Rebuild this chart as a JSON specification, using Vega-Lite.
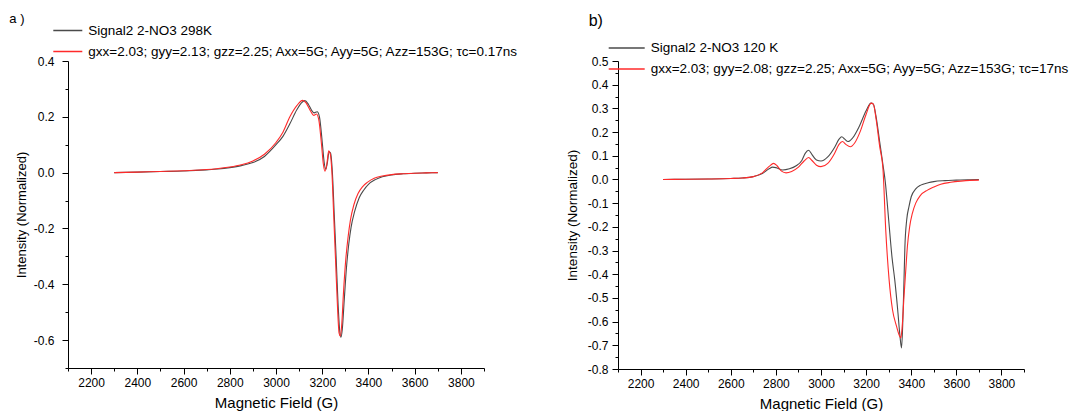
{
  "$schema": "https://vega.github.io/schema/vega-lite/v6.json",
  "background": "white",
  "padding": {"left": 9, "top": 12, "right": 0, "bottom": 0},
  "bounds": "flush",
  "spacing": 134,
  "config": {
    "font": "Liberation Sans",
    "view": {"stroke": null},
    "axis": {"domainColor": "#000", "tickColor": "#000", "labelColor": "#000", "titleColor": "#000", "grid": false, "labelFont": "Liberation Sans", "titleFont": "Liberation Sans", "labelFontSize": 12, "titleFontWeight": "normal", "domainWidth": 1, "tickWidth": 1, "labelFlush": false, "labelOverlap": false},
    "legend": {"orient": "none", "title": null, "symbolType": "stroke", "labelFont": "Liberation Sans", "labelFontSize": 13.5, "labelColor": "#000", "clipHeight": 14, "rowPadding": 7, "labelOffset": 5, "padding": 0, "symbolStrokeWidth": 1.5, "labelLimit": 0},
    "title": {"font": "Liberation Sans", "fontWeight": "normal", "color": "#000", "anchor": "start", "frame": "group"}
  },
  "resolve": {"scale": {"x": "independent", "y": "independent", "color": "independent"}, "legend": {"color": "independent"}},
  "hconcat": [
    {
      "width": 416,
      "height": 307,
      "title": {"text": "a )", "fontSize": 13, "dx": -58.7, "dy": 6},
      "data": {"values": [
        {"B": 2300, "I": 0.000, "s": "Signal2 2-NO3 298K"},
        {"B": 2400, "I": 0.002, "s": "Signal2 2-NO3 298K"},
        {"B": 2500, "I": 0.004, "s": "Signal2 2-NO3 298K"},
        {"B": 2600, "I": 0.006, "s": "Signal2 2-NO3 298K"},
        {"B": 2700, "I": 0.010, "s": "Signal2 2-NO3 298K"},
        {"B": 2750, "I": 0.013, "s": "Signal2 2-NO3 298K"},
        {"B": 2800, "I": 0.018, "s": "Signal2 2-NO3 298K"},
        {"B": 2850, "I": 0.025, "s": "Signal2 2-NO3 298K"},
        {"B": 2900, "I": 0.036, "s": "Signal2 2-NO3 298K"},
        {"B": 2950, "I": 0.058, "s": "Signal2 2-NO3 298K"},
        {"B": 3000, "I": 0.100, "s": "Signal2 2-NO3 298K"},
        {"B": 3030, "I": 0.130, "s": "Signal2 2-NO3 298K"},
        {"B": 3060, "I": 0.175, "s": "Signal2 2-NO3 298K"},
        {"B": 3090, "I": 0.225, "s": "Signal2 2-NO3 298K"},
        {"B": 3110, "I": 0.250, "s": "Signal2 2-NO3 298K"},
        {"B": 3125, "I": 0.258, "s": "Signal2 2-NO3 298K"},
        {"B": 3140, "I": 0.245, "s": "Signal2 2-NO3 298K"},
        {"B": 3155, "I": 0.222, "s": "Signal2 2-NO3 298K"},
        {"B": 3165, "I": 0.214, "s": "Signal2 2-NO3 298K"},
        {"B": 3178, "I": 0.218, "s": "Signal2 2-NO3 298K"},
        {"B": 3188, "I": 0.200, "s": "Signal2 2-NO3 298K"},
        {"B": 3200, "I": 0.110, "s": "Signal2 2-NO3 298K"},
        {"B": 3208, "I": 0.040, "s": "Signal2 2-NO3 298K"},
        {"B": 3215, "I": 0.012, "s": "Signal2 2-NO3 298K"},
        {"B": 3222, "I": 0.035, "s": "Signal2 2-NO3 298K"},
        {"B": 3230, "I": 0.075, "s": "Signal2 2-NO3 298K"},
        {"B": 3236, "I": 0.070, "s": "Signal2 2-NO3 298K"},
        {"B": 3244, "I": 0.000, "s": "Signal2 2-NO3 298K"},
        {"B": 3252, "I": -0.150, "s": "Signal2 2-NO3 298K"},
        {"B": 3260, "I": -0.300, "s": "Signal2 2-NO3 298K"},
        {"B": 3268, "I": -0.460, "s": "Signal2 2-NO3 298K"},
        {"B": 3276, "I": -0.570, "s": "Signal2 2-NO3 298K"},
        {"B": 3281, "I": -0.590, "s": "Signal2 2-NO3 298K"},
        {"B": 3287, "I": -0.560, "s": "Signal2 2-NO3 298K"},
        {"B": 3295, "I": -0.460, "s": "Signal2 2-NO3 298K"},
        {"B": 3305, "I": -0.340, "s": "Signal2 2-NO3 298K"},
        {"B": 3315, "I": -0.255, "s": "Signal2 2-NO3 298K"},
        {"B": 3325, "I": -0.195, "s": "Signal2 2-NO3 298K"},
        {"B": 3340, "I": -0.140, "s": "Signal2 2-NO3 298K"},
        {"B": 3360, "I": -0.090, "s": "Signal2 2-NO3 298K"},
        {"B": 3380, "I": -0.062, "s": "Signal2 2-NO3 298K"},
        {"B": 3400, "I": -0.042, "s": "Signal2 2-NO3 298K"},
        {"B": 3430, "I": -0.025, "s": "Signal2 2-NO3 298K"},
        {"B": 3460, "I": -0.015, "s": "Signal2 2-NO3 298K"},
        {"B": 3500, "I": -0.008, "s": "Signal2 2-NO3 298K"},
        {"B": 3550, "I": -0.004, "s": "Signal2 2-NO3 298K"},
        {"B": 3600, "I": -0.002, "s": "Signal2 2-NO3 298K"},
        {"B": 3650, "I": -0.001, "s": "Signal2 2-NO3 298K"},
        {"B": 3700, "I": 0.000, "s": "Signal2 2-NO3 298K"},
        {"B": 2300, "I": 0.000, "s": "gxx=2.03; gyy=2.13; gzz=2.25; Axx=5G; Ayy=5G; Azz=153G; τc=0.17ns"},
        {"B": 2400, "I": 0.002, "s": "gxx=2.03; gyy=2.13; gzz=2.25; Axx=5G; Ayy=5G; Azz=153G; τc=0.17ns"},
        {"B": 2500, "I": 0.004, "s": "gxx=2.03; gyy=2.13; gzz=2.25; Axx=5G; Ayy=5G; Azz=153G; τc=0.17ns"},
        {"B": 2600, "I": 0.007, "s": "gxx=2.03; gyy=2.13; gzz=2.25; Axx=5G; Ayy=5G; Azz=153G; τc=0.17ns"},
        {"B": 2700, "I": 0.011, "s": "gxx=2.03; gyy=2.13; gzz=2.25; Axx=5G; Ayy=5G; Azz=153G; τc=0.17ns"},
        {"B": 2750, "I": 0.015, "s": "gxx=2.03; gyy=2.13; gzz=2.25; Axx=5G; Ayy=5G; Azz=153G; τc=0.17ns"},
        {"B": 2800, "I": 0.020, "s": "gxx=2.03; gyy=2.13; gzz=2.25; Axx=5G; Ayy=5G; Azz=153G; τc=0.17ns"},
        {"B": 2850, "I": 0.028, "s": "gxx=2.03; gyy=2.13; gzz=2.25; Axx=5G; Ayy=5G; Azz=153G; τc=0.17ns"},
        {"B": 2900, "I": 0.042, "s": "gxx=2.03; gyy=2.13; gzz=2.25; Axx=5G; Ayy=5G; Azz=153G; τc=0.17ns"},
        {"B": 2950, "I": 0.066, "s": "gxx=2.03; gyy=2.13; gzz=2.25; Axx=5G; Ayy=5G; Azz=153G; τc=0.17ns"},
        {"B": 3000, "I": 0.108, "s": "gxx=2.03; gyy=2.13; gzz=2.25; Axx=5G; Ayy=5G; Azz=153G; τc=0.17ns"},
        {"B": 3030, "I": 0.145, "s": "gxx=2.03; gyy=2.13; gzz=2.25; Axx=5G; Ayy=5G; Azz=153G; τc=0.17ns"},
        {"B": 3060, "I": 0.200, "s": "gxx=2.03; gyy=2.13; gzz=2.25; Axx=5G; Ayy=5G; Azz=153G; τc=0.17ns"},
        {"B": 3090, "I": 0.240, "s": "gxx=2.03; gyy=2.13; gzz=2.25; Axx=5G; Ayy=5G; Azz=153G; τc=0.17ns"},
        {"B": 3115, "I": 0.259, "s": "gxx=2.03; gyy=2.13; gzz=2.25; Axx=5G; Ayy=5G; Azz=153G; τc=0.17ns"},
        {"B": 3130, "I": 0.250, "s": "gxx=2.03; gyy=2.13; gzz=2.25; Axx=5G; Ayy=5G; Azz=153G; τc=0.17ns"},
        {"B": 3150, "I": 0.220, "s": "gxx=2.03; gyy=2.13; gzz=2.25; Axx=5G; Ayy=5G; Azz=153G; τc=0.17ns"},
        {"B": 3163, "I": 0.205, "s": "gxx=2.03; gyy=2.13; gzz=2.25; Axx=5G; Ayy=5G; Azz=153G; τc=0.17ns"},
        {"B": 3175, "I": 0.210, "s": "gxx=2.03; gyy=2.13; gzz=2.25; Axx=5G; Ayy=5G; Azz=153G; τc=0.17ns"},
        {"B": 3185, "I": 0.190, "s": "gxx=2.03; gyy=2.13; gzz=2.25; Axx=5G; Ayy=5G; Azz=153G; τc=0.17ns"},
        {"B": 3197, "I": 0.100, "s": "gxx=2.03; gyy=2.13; gzz=2.25; Axx=5G; Ayy=5G; Azz=153G; τc=0.17ns"},
        {"B": 3205, "I": 0.030, "s": "gxx=2.03; gyy=2.13; gzz=2.25; Axx=5G; Ayy=5G; Azz=153G; τc=0.17ns"},
        {"B": 3212, "I": 0.005, "s": "gxx=2.03; gyy=2.13; gzz=2.25; Axx=5G; Ayy=5G; Azz=153G; τc=0.17ns"},
        {"B": 3220, "I": 0.030, "s": "gxx=2.03; gyy=2.13; gzz=2.25; Axx=5G; Ayy=5G; Azz=153G; τc=0.17ns"},
        {"B": 3228, "I": 0.078, "s": "gxx=2.03; gyy=2.13; gzz=2.25; Axx=5G; Ayy=5G; Azz=153G; τc=0.17ns"},
        {"B": 3234, "I": 0.070, "s": "gxx=2.03; gyy=2.13; gzz=2.25; Axx=5G; Ayy=5G; Azz=153G; τc=0.17ns"},
        {"B": 3242, "I": 0.000, "s": "gxx=2.03; gyy=2.13; gzz=2.25; Axx=5G; Ayy=5G; Azz=153G; τc=0.17ns"},
        {"B": 3250, "I": -0.160, "s": "gxx=2.03; gyy=2.13; gzz=2.25; Axx=5G; Ayy=5G; Azz=153G; τc=0.17ns"},
        {"B": 3258, "I": -0.320, "s": "gxx=2.03; gyy=2.13; gzz=2.25; Axx=5G; Ayy=5G; Azz=153G; τc=0.17ns"},
        {"B": 3266, "I": -0.480, "s": "gxx=2.03; gyy=2.13; gzz=2.25; Axx=5G; Ayy=5G; Azz=153G; τc=0.17ns"},
        {"B": 3273, "I": -0.575, "s": "gxx=2.03; gyy=2.13; gzz=2.25; Axx=5G; Ayy=5G; Azz=153G; τc=0.17ns"},
        {"B": 3278, "I": -0.585, "s": "gxx=2.03; gyy=2.13; gzz=2.25; Axx=5G; Ayy=5G; Azz=153G; τc=0.17ns"},
        {"B": 3284, "I": -0.550, "s": "gxx=2.03; gyy=2.13; gzz=2.25; Axx=5G; Ayy=5G; Azz=153G; τc=0.17ns"},
        {"B": 3292, "I": -0.430, "s": "gxx=2.03; gyy=2.13; gzz=2.25; Axx=5G; Ayy=5G; Azz=153G; τc=0.17ns"},
        {"B": 3302, "I": -0.310, "s": "gxx=2.03; gyy=2.13; gzz=2.25; Axx=5G; Ayy=5G; Azz=153G; τc=0.17ns"},
        {"B": 3312, "I": -0.230, "s": "gxx=2.03; gyy=2.13; gzz=2.25; Axx=5G; Ayy=5G; Azz=153G; τc=0.17ns"},
        {"B": 3322, "I": -0.170, "s": "gxx=2.03; gyy=2.13; gzz=2.25; Axx=5G; Ayy=5G; Azz=153G; τc=0.17ns"},
        {"B": 3337, "I": -0.115, "s": "gxx=2.03; gyy=2.13; gzz=2.25; Axx=5G; Ayy=5G; Azz=153G; τc=0.17ns"},
        {"B": 3355, "I": -0.075, "s": "gxx=2.03; gyy=2.13; gzz=2.25; Axx=5G; Ayy=5G; Azz=153G; τc=0.17ns"},
        {"B": 3375, "I": -0.050, "s": "gxx=2.03; gyy=2.13; gzz=2.25; Axx=5G; Ayy=5G; Azz=153G; τc=0.17ns"},
        {"B": 3395, "I": -0.035, "s": "gxx=2.03; gyy=2.13; gzz=2.25; Axx=5G; Ayy=5G; Azz=153G; τc=0.17ns"},
        {"B": 3425, "I": -0.020, "s": "gxx=2.03; gyy=2.13; gzz=2.25; Axx=5G; Ayy=5G; Azz=153G; τc=0.17ns"},
        {"B": 3460, "I": -0.012, "s": "gxx=2.03; gyy=2.13; gzz=2.25; Axx=5G; Ayy=5G; Azz=153G; τc=0.17ns"},
        {"B": 3500, "I": -0.007, "s": "gxx=2.03; gyy=2.13; gzz=2.25; Axx=5G; Ayy=5G; Azz=153G; τc=0.17ns"},
        {"B": 3550, "I": -0.004, "s": "gxx=2.03; gyy=2.13; gzz=2.25; Axx=5G; Ayy=5G; Azz=153G; τc=0.17ns"},
        {"B": 3600, "I": -0.002, "s": "gxx=2.03; gyy=2.13; gzz=2.25; Axx=5G; Ayy=5G; Azz=153G; τc=0.17ns"},
        {"B": 3650, "I": -0.001, "s": "gxx=2.03; gyy=2.13; gzz=2.25; Axx=5G; Ayy=5G; Azz=153G; τc=0.17ns"},
        {"B": 3700, "I": 0.000, "s": "gxx=2.03; gyy=2.13; gzz=2.25; Axx=5G; Ayy=5G; Azz=153G; τc=0.17ns"}
      ]},
      "mark": {"type": "line", "strokeWidth": 1.1, "interpolate": "monotone"},
      "encoding": {
        "x": {"field": "B", "type": "quantitative", "scale": {"domain": [2100, 3900], "nice": false, "zero": false},
          "axis": {"title": "Magnetic Field (G)", "titleFontSize": 15, "titlePadding": 7, "format": "d", "labelPadding": 3,
            "values": [2100, 2200, 2300, 2400, 2500, 2600, 2700, 2800, 2900, 3000, 3100, 3200, 3300, 3400, 3500, 3600, 3700, 3800, 3900],
            "labelExpr": "datum.value % 200 == 0 ? datum.label : ''",
            "tickSize": {"condition": {"test": "datum.value % 200 == 0", "value": 6}, "value": 3}}},
        "y": {"field": "I", "type": "quantitative", "scale": {"domain": [-0.7, 0.4], "nice": false, "zero": false},
          "axis": {"title": "Intensity (Normalized)", "titleFontSize": 13, "titlePadding": 5, "labelPadding": 8,
            "values": [-0.7, -0.6, -0.5, -0.4, -0.3, -0.2, -0.1, 0, 0.1, 0.2, 0.3, 0.4],
            "labelExpr": "abs(round(datum.value * 10)) % 2 == 0 ? replace(format(datum.value, '.1f'), '\u2212', '-') : ''",
            "tickSize": {"condition": {"test": "abs(round(datum.value * 10)) % 2 == 0", "value": 6}, "value": 3}}},
        "color": {"field": "s", "type": "nominal",
          "scale": {"domain": ["Signal2 2-NO3 298K", "gxx=2.03; gyy=2.13; gzz=2.25; Axx=5G; Ayy=5G; Azz=153G; τc=0.17ns"], "range": ["#4a4a4a", "#ff2a2a"]},
          "legend": {"legendX": -15.7, "legendY": -37.5, "symbolSize": 841}}
      }
    },
    {
      "width": 406,
      "height": 308,
      "title": {"text": "b)", "fontSize": 16, "dx": -29.3, "dy": -8},
      "data": {"values": [
        {"B": 2300, "I": 0.000, "s": "Signal2 2-NO3 120 K"},
        {"B": 2400, "I": 0.001, "s": "Signal2 2-NO3 120 K"},
        {"B": 2500, "I": 0.002, "s": "Signal2 2-NO3 120 K"},
        {"B": 2600, "I": 0.004, "s": "Signal2 2-NO3 120 K"},
        {"B": 2650, "I": 0.006, "s": "Signal2 2-NO3 120 K"},
        {"B": 2700, "I": 0.012, "s": "Signal2 2-NO3 120 K"},
        {"B": 2740, "I": 0.025, "s": "Signal2 2-NO3 120 K"},
        {"B": 2770, "I": 0.045, "s": "Signal2 2-NO3 120 K"},
        {"B": 2785, "I": 0.052, "s": "Signal2 2-NO3 120 K"},
        {"B": 2800, "I": 0.050, "s": "Signal2 2-NO3 120 K"},
        {"B": 2830, "I": 0.040, "s": "Signal2 2-NO3 120 K"},
        {"B": 2860, "I": 0.045, "s": "Signal2 2-NO3 120 K"},
        {"B": 2890, "I": 0.058, "s": "Signal2 2-NO3 120 K"},
        {"B": 2915, "I": 0.080, "s": "Signal2 2-NO3 120 K"},
        {"B": 2930, "I": 0.110, "s": "Signal2 2-NO3 120 K"},
        {"B": 2945, "I": 0.123, "s": "Signal2 2-NO3 120 K"},
        {"B": 2960, "I": 0.105, "s": "Signal2 2-NO3 120 K"},
        {"B": 2980, "I": 0.082, "s": "Signal2 2-NO3 120 K"},
        {"B": 3000, "I": 0.078, "s": "Signal2 2-NO3 120 K"},
        {"B": 3030, "I": 0.095, "s": "Signal2 2-NO3 120 K"},
        {"B": 3060, "I": 0.135, "s": "Signal2 2-NO3 120 K"},
        {"B": 3080, "I": 0.170, "s": "Signal2 2-NO3 120 K"},
        {"B": 3092, "I": 0.180, "s": "Signal2 2-NO3 120 K"},
        {"B": 3105, "I": 0.170, "s": "Signal2 2-NO3 120 K"},
        {"B": 3120, "I": 0.160, "s": "Signal2 2-NO3 120 K"},
        {"B": 3140, "I": 0.175, "s": "Signal2 2-NO3 120 K"},
        {"B": 3170, "I": 0.225, "s": "Signal2 2-NO3 120 K"},
        {"B": 3200, "I": 0.290, "s": "Signal2 2-NO3 120 K"},
        {"B": 3222, "I": 0.322, "s": "Signal2 2-NO3 120 K"},
        {"B": 3232, "I": 0.318, "s": "Signal2 2-NO3 120 K"},
        {"B": 3245, "I": 0.260, "s": "Signal2 2-NO3 120 K"},
        {"B": 3260, "I": 0.160, "s": "Signal2 2-NO3 120 K"},
        {"B": 3275, "I": 0.060, "s": "Signal2 2-NO3 120 K"},
        {"B": 3285, "I": -0.010, "s": "Signal2 2-NO3 120 K"},
        {"B": 3300, "I": -0.170, "s": "Signal2 2-NO3 120 K"},
        {"B": 3315, "I": -0.330, "s": "Signal2 2-NO3 120 K"},
        {"B": 3327, "I": -0.424, "s": "Signal2 2-NO3 120 K"},
        {"B": 3340, "I": -0.550, "s": "Signal2 2-NO3 120 K"},
        {"B": 3350, "I": -0.660, "s": "Signal2 2-NO3 120 K"},
        {"B": 3357, "I": -0.711, "s": "Signal2 2-NO3 120 K"},
        {"B": 3362, "I": -0.620, "s": "Signal2 2-NO3 120 K"},
        {"B": 3367, "I": -0.460, "s": "Signal2 2-NO3 120 K"},
        {"B": 3372, "I": -0.283, "s": "Signal2 2-NO3 120 K"},
        {"B": 3380, "I": -0.170, "s": "Signal2 2-NO3 120 K"},
        {"B": 3390, "I": -0.115, "s": "Signal2 2-NO3 120 K"},
        {"B": 3400, "I": -0.073, "s": "Signal2 2-NO3 120 K"},
        {"B": 3420, "I": -0.040, "s": "Signal2 2-NO3 120 K"},
        {"B": 3442, "I": -0.024, "s": "Signal2 2-NO3 120 K"},
        {"B": 3475, "I": -0.014, "s": "Signal2 2-NO3 120 K"},
        {"B": 3500, "I": -0.009, "s": "Signal2 2-NO3 120 K"},
        {"B": 3550, "I": -0.005, "s": "Signal2 2-NO3 120 K"},
        {"B": 3600, "I": -0.003, "s": "Signal2 2-NO3 120 K"},
        {"B": 3650, "I": -0.001, "s": "Signal2 2-NO3 120 K"},
        {"B": 3700, "I": 0.000, "s": "Signal2 2-NO3 120 K"},
        {"B": 2300, "I": 0.000, "s": "gxx=2.03; gyy=2.08; gzz=2.25; Axx=5G; Ayy=5G; Azz=153G; τc=17ns"},
        {"B": 2400, "I": 0.001, "s": "gxx=2.03; gyy=2.08; gzz=2.25; Axx=5G; Ayy=5G; Azz=153G; τc=17ns"},
        {"B": 2500, "I": 0.002, "s": "gxx=2.03; gyy=2.08; gzz=2.25; Axx=5G; Ayy=5G; Azz=153G; τc=17ns"},
        {"B": 2600, "I": 0.004, "s": "gxx=2.03; gyy=2.08; gzz=2.25; Axx=5G; Ayy=5G; Azz=153G; τc=17ns"},
        {"B": 2650, "I": 0.006, "s": "gxx=2.03; gyy=2.08; gzz=2.25; Axx=5G; Ayy=5G; Azz=153G; τc=17ns"},
        {"B": 2700, "I": 0.012, "s": "gxx=2.03; gyy=2.08; gzz=2.25; Axx=5G; Ayy=5G; Azz=153G; τc=17ns"},
        {"B": 2740, "I": 0.028, "s": "gxx=2.03; gyy=2.08; gzz=2.25; Axx=5G; Ayy=5G; Azz=153G; τc=17ns"},
        {"B": 2770, "I": 0.055, "s": "gxx=2.03; gyy=2.08; gzz=2.25; Axx=5G; Ayy=5G; Azz=153G; τc=17ns"},
        {"B": 2790, "I": 0.068, "s": "gxx=2.03; gyy=2.08; gzz=2.25; Axx=5G; Ayy=5G; Azz=153G; τc=17ns"},
        {"B": 2805, "I": 0.058, "s": "gxx=2.03; gyy=2.08; gzz=2.25; Axx=5G; Ayy=5G; Azz=153G; τc=17ns"},
        {"B": 2825, "I": 0.035, "s": "gxx=2.03; gyy=2.08; gzz=2.25; Axx=5G; Ayy=5G; Azz=153G; τc=17ns"},
        {"B": 2845, "I": 0.028, "s": "gxx=2.03; gyy=2.08; gzz=2.25; Axx=5G; Ayy=5G; Azz=153G; τc=17ns"},
        {"B": 2870, "I": 0.034, "s": "gxx=2.03; gyy=2.08; gzz=2.25; Axx=5G; Ayy=5G; Azz=153G; τc=17ns"},
        {"B": 2900, "I": 0.052, "s": "gxx=2.03; gyy=2.08; gzz=2.25; Axx=5G; Ayy=5G; Azz=153G; τc=17ns"},
        {"B": 2925, "I": 0.078, "s": "gxx=2.03; gyy=2.08; gzz=2.25; Axx=5G; Ayy=5G; Azz=153G; τc=17ns"},
        {"B": 2945, "I": 0.093, "s": "gxx=2.03; gyy=2.08; gzz=2.25; Axx=5G; Ayy=5G; Azz=153G; τc=17ns"},
        {"B": 2960, "I": 0.080, "s": "gxx=2.03; gyy=2.08; gzz=2.25; Axx=5G; Ayy=5G; Azz=153G; τc=17ns"},
        {"B": 2980, "I": 0.060, "s": "gxx=2.03; gyy=2.08; gzz=2.25; Axx=5G; Ayy=5G; Azz=153G; τc=17ns"},
        {"B": 3000, "I": 0.054, "s": "gxx=2.03; gyy=2.08; gzz=2.25; Axx=5G; Ayy=5G; Azz=153G; τc=17ns"},
        {"B": 3030, "I": 0.068, "s": "gxx=2.03; gyy=2.08; gzz=2.25; Axx=5G; Ayy=5G; Azz=153G; τc=17ns"},
        {"B": 3060, "I": 0.110, "s": "gxx=2.03; gyy=2.08; gzz=2.25; Axx=5G; Ayy=5G; Azz=153G; τc=17ns"},
        {"B": 3080, "I": 0.148, "s": "gxx=2.03; gyy=2.08; gzz=2.25; Axx=5G; Ayy=5G; Azz=153G; τc=17ns"},
        {"B": 3095, "I": 0.160, "s": "gxx=2.03; gyy=2.08; gzz=2.25; Axx=5G; Ayy=5G; Azz=153G; τc=17ns"},
        {"B": 3110, "I": 0.148, "s": "gxx=2.03; gyy=2.08; gzz=2.25; Axx=5G; Ayy=5G; Azz=153G; τc=17ns"},
        {"B": 3130, "I": 0.138, "s": "gxx=2.03; gyy=2.08; gzz=2.25; Axx=5G; Ayy=5G; Azz=153G; τc=17ns"},
        {"B": 3150, "I": 0.155, "s": "gxx=2.03; gyy=2.08; gzz=2.25; Axx=5G; Ayy=5G; Azz=153G; τc=17ns"},
        {"B": 3175, "I": 0.205, "s": "gxx=2.03; gyy=2.08; gzz=2.25; Axx=5G; Ayy=5G; Azz=153G; τc=17ns"},
        {"B": 3200, "I": 0.275, "s": "gxx=2.03; gyy=2.08; gzz=2.25; Axx=5G; Ayy=5G; Azz=153G; τc=17ns"},
        {"B": 3222, "I": 0.322, "s": "gxx=2.03; gyy=2.08; gzz=2.25; Axx=5G; Ayy=5G; Azz=153G; τc=17ns"},
        {"B": 3232, "I": 0.318, "s": "gxx=2.03; gyy=2.08; gzz=2.25; Axx=5G; Ayy=5G; Azz=153G; τc=17ns"},
        {"B": 3245, "I": 0.250, "s": "gxx=2.03; gyy=2.08; gzz=2.25; Axx=5G; Ayy=5G; Azz=153G; τc=17ns"},
        {"B": 3260, "I": 0.140, "s": "gxx=2.03; gyy=2.08; gzz=2.25; Axx=5G; Ayy=5G; Azz=153G; τc=17ns"},
        {"B": 3275, "I": 0.040, "s": "gxx=2.03; gyy=2.08; gzz=2.25; Axx=5G; Ayy=5G; Azz=153G; τc=17ns"},
        {"B": 3287, "I": -0.213, "s": "gxx=2.03; gyy=2.08; gzz=2.25; Axx=5G; Ayy=5G; Azz=153G; τc=17ns"},
        {"B": 3302, "I": -0.424, "s": "gxx=2.03; gyy=2.08; gzz=2.25; Axx=5G; Ayy=5G; Azz=153G; τc=17ns"},
        {"B": 3317, "I": -0.550, "s": "gxx=2.03; gyy=2.08; gzz=2.25; Axx=5G; Ayy=5G; Azz=153G; τc=17ns"},
        {"B": 3335, "I": -0.620, "s": "gxx=2.03; gyy=2.08; gzz=2.25; Axx=5G; Ayy=5G; Azz=153G; τc=17ns"},
        {"B": 3348, "I": -0.660, "s": "gxx=2.03; gyy=2.08; gzz=2.25; Axx=5G; Ayy=5G; Azz=153G; τc=17ns"},
        {"B": 3354, "I": -0.669, "s": "gxx=2.03; gyy=2.08; gzz=2.25; Axx=5G; Ayy=5G; Azz=153G; τc=17ns"},
        {"B": 3360, "I": -0.620, "s": "gxx=2.03; gyy=2.08; gzz=2.25; Axx=5G; Ayy=5G; Azz=153G; τc=17ns"},
        {"B": 3368, "I": -0.494, "s": "gxx=2.03; gyy=2.08; gzz=2.25; Axx=5G; Ayy=5G; Azz=153G; τc=17ns"},
        {"B": 3376, "I": -0.380, "s": "gxx=2.03; gyy=2.08; gzz=2.25; Axx=5G; Ayy=5G; Azz=153G; τc=17ns"},
        {"B": 3383, "I": -0.283, "s": "gxx=2.03; gyy=2.08; gzz=2.25; Axx=5G; Ayy=5G; Azz=153G; τc=17ns"},
        {"B": 3393, "I": -0.200, "s": "gxx=2.03; gyy=2.08; gzz=2.25; Axx=5G; Ayy=5G; Azz=153G; τc=17ns"},
        {"B": 3405, "I": -0.143, "s": "gxx=2.03; gyy=2.08; gzz=2.25; Axx=5G; Ayy=5G; Azz=153G; τc=17ns"},
        {"B": 3420, "I": -0.100, "s": "gxx=2.03; gyy=2.08; gzz=2.25; Axx=5G; Ayy=5G; Azz=153G; τc=17ns"},
        {"B": 3440, "I": -0.068, "s": "gxx=2.03; gyy=2.08; gzz=2.25; Axx=5G; Ayy=5G; Azz=153G; τc=17ns"},
        {"B": 3472, "I": -0.045, "s": "gxx=2.03; gyy=2.08; gzz=2.25; Axx=5G; Ayy=5G; Azz=153G; τc=17ns"},
        {"B": 3500, "I": -0.032, "s": "gxx=2.03; gyy=2.08; gzz=2.25; Axx=5G; Ayy=5G; Azz=153G; τc=17ns"},
        {"B": 3531, "I": -0.020, "s": "gxx=2.03; gyy=2.08; gzz=2.25; Axx=5G; Ayy=5G; Azz=153G; τc=17ns"},
        {"B": 3575, "I": -0.012, "s": "gxx=2.03; gyy=2.08; gzz=2.25; Axx=5G; Ayy=5G; Azz=153G; τc=17ns"},
        {"B": 3620, "I": -0.007, "s": "gxx=2.03; gyy=2.08; gzz=2.25; Axx=5G; Ayy=5G; Azz=153G; τc=17ns"},
        {"B": 3660, "I": -0.004, "s": "gxx=2.03; gyy=2.08; gzz=2.25; Axx=5G; Ayy=5G; Azz=153G; τc=17ns"},
        {"B": 3700, "I": -0.003, "s": "gxx=2.03; gyy=2.08; gzz=2.25; Axx=5G; Ayy=5G; Azz=153G; τc=17ns"}
      ]},
      "mark": {"type": "line", "strokeWidth": 1.1, "interpolate": "monotone"},
      "encoding": {
        "x": {"field": "B", "type": "quantitative", "scale": {"domain": [2100, 3900], "nice": false, "zero": false},
          "axis": {"title": "Magnetic Field (G)", "titleFontSize": 15, "titlePadding": 7, "format": "d", "labelPadding": 3,
            "values": [2100, 2200, 2300, 2400, 2500, 2600, 2700, 2800, 2900, 3000, 3100, 3200, 3300, 3400, 3500, 3600, 3700, 3800, 3900],
            "labelExpr": "datum.value % 200 == 0 ? datum.label : ''",
            "tickSize": {"condition": {"test": "datum.value % 200 == 0", "value": 6}, "value": 3}}},
        "y": {"field": "I", "type": "quantitative", "scale": {"domain": [-0.8, 0.5], "nice": false, "zero": false},
          "axis": {"title": "Intensity (Normalized)", "titleFontSize": 13.5, "titlePadding": 8, "labelPadding": 4,
            "values": [-0.8, -0.75, -0.7, -0.65, -0.6, -0.55, -0.5, -0.45, -0.4, -0.35, -0.3, -0.25, -0.2, -0.15, -0.1, -0.05, 0, 0.05, 0.1, 0.15, 0.2, 0.25, 0.3, 0.35, 0.4, 0.45, 0.5],
            "labelExpr": "abs(round(datum.value * 20)) % 2 == 0 ? replace(format(datum.value, '.1f'), '\u2212', '-') : ''",
            "tickSize": {"condition": {"test": "abs(round(datum.value * 20)) % 2 == 0", "value": 6}, "value": 3}}},
        "color": {"field": "s", "type": "nominal",
          "scale": {"domain": ["Signal2 2-NO3 120 K", "gxx=2.03; gyy=2.08; gzz=2.25; Axx=5G; Ayy=5G; Azz=153G; τc=17ns"], "range": ["#4a4a4a", "#ff2a2a"]},
          "legend": {"legendX": -10.3, "legendY": -20, "symbolSize": 1296}}
      }
    }
  ]
}
